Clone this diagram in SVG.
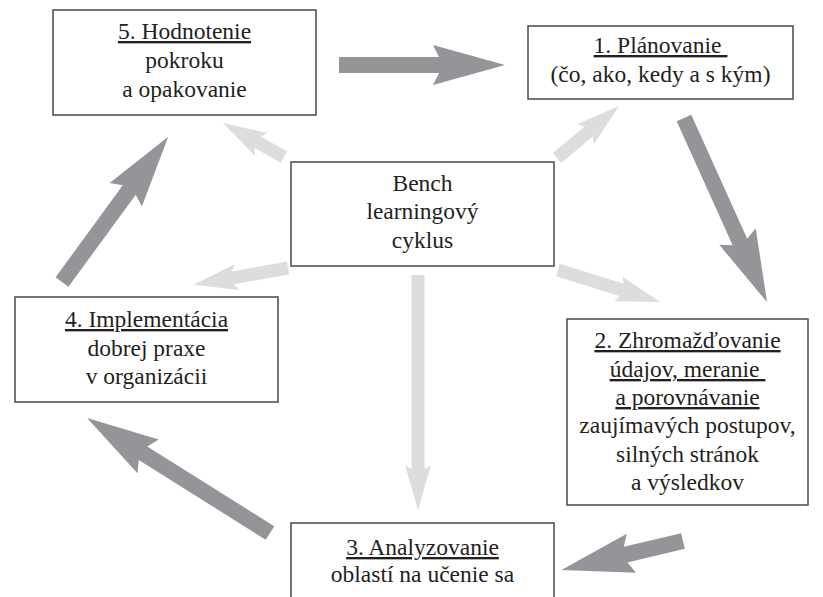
<svg xmlns="http://www.w3.org/2000/svg" width="823" height="597" viewBox="0 0 823 597">
  <style>
    .box { fill: #ffffff; stroke: #4a4a4c; stroke-width: 1.5; }
    .lbl { font-family: "Liberation Serif", "DejaVu Serif", serif; font-size: 23.5px; fill: #231f20; text-anchor: middle; }
    .u { text-decoration: underline; }
    .dark { fill: #939598; }
    .light { fill: #dcddde; }
  </style>
  <rect width="823" height="597" fill="#ffffff"/>

  <!-- connectors -->
  <g id="connectors">
    <!-- light arrows from the central cycle box -->
    <polygon class="light" transform="translate(284,157) rotate(-150.9)" points="0,-6.5 30,-6.5 26,-13 70,0 26,13 30,6.5 0,6.5"/>
    <polygon class="light" transform="translate(557,158) rotate(-40)" points="0,-6.5 41,-6.5 37,-13 81,0 37,13 41,6.5 0,6.5"/>
    <polygon class="light" transform="translate(288,268) rotate(169.9)" points="0,-6.5 56,-6.5 52,-13 96,0 52,13 56,6.5 0,6.5"/>
    <polygon class="light" transform="translate(558,270) rotate(17.4)" points="0,-6.5 67,-6.5 63,-13 107,0 63,13 67,6.5 0,6.5"/>
    <polygon class="light" transform="translate(418,275) rotate(90)" points="0,-6.5 194,-6.5 190,-13 235,0 190,13 194,6.5 0,6.5"/>
    <!-- dark cycle arrows -->
    <polygon class="dark" transform="translate(339,65)" points="0,-8 100,-8 94,-20 166,0 94,20 100,8 0,8"/>
    <polygon class="dark" transform="translate(684,118) rotate(65.72)" points="0,-8 136,-8 130,-20 202,0 130,20 136,8 0,8"/>
    <polygon class="dark" transform="translate(683,541) rotate(166.63)" points="0,-8 59,-8 53,-20 125,0 53,20 59,8 0,8"/>
    <polygon class="dark" transform="translate(270,533) rotate(-147.85)" points="0,-8 150,-8 144,-20 216,0 144,20 150,8 0,8"/>
    <polygon class="dark" transform="translate(62,282) rotate(-53.83)" points="0,-8 114,-8 108,-20 180,0 108,20 114,8 0,8"/>
  </g>

  <g id="node-5">
    <rect class="box" x="53" y="10" width="263" height="105"/>
    <text class="lbl" x="184.5" y="39"><tspan class="u">5. Hodnotenie</tspan></text>
    <text class="lbl" x="184.5" y="68">pokroku</text>
    <text class="lbl" x="184.5" y="97">a opakovanie</text>
  </g>

  <g id="node-1">
    <rect class="box" x="528" y="26" width="265" height="73"/>
    <text class="lbl" x="660.5" y="53"><tspan class="u">1. Plánovanie&#160;</tspan></text>
    <text class="lbl" x="660.5" y="82">(čo, ako, kedy a s kým)</text>
  </g>

  <g id="node-center">
    <rect class="box" x="291" y="162" width="263" height="104"/>
    <text class="lbl" x="422.5" y="191">Bench</text>
    <text class="lbl" x="422.5" y="219">learningový</text>
    <text class="lbl" x="422.5" y="248">cyklus</text>
  </g>

  <g id="node-4">
    <rect class="box" x="15" y="297" width="263" height="105"/>
    <text class="lbl" x="146.5" y="327"><tspan class="u">4. Implementácia</tspan></text>
    <text class="lbl" x="146.5" y="356">dobrej praxe</text>
    <text class="lbl" x="146.5" y="384">v organizácii</text>
  </g>

  <g id="node-2">
    <rect class="box" x="567" y="319" width="241" height="186"/>
    <text class="lbl" x="687.5" y="348"><tspan class="u">2. Zhromažďovanie</tspan></text>
    <text class="lbl" x="687.5" y="377"><tspan class="u">údajov, meranie&#160;</tspan></text>
    <text class="lbl" x="687.5" y="405"><tspan class="u">a porovnávanie</tspan></text>
    <text class="lbl" x="687.5" y="433">zaujímavých postupov,</text>
    <text class="lbl" x="687.5" y="462">silných stránok</text>
    <text class="lbl" x="687.5" y="490">a výsledkov</text>
  </g>

  <g id="node-3">
    <path class="box" d="M291,598 V523 H554 V598"/>
    <text class="lbl" x="422.5" y="555"><tspan class="u">3. Analyzovanie</tspan></text>
    <text class="lbl" x="422.5" y="582">oblastí na učenie sa</text>
  </g>
</svg>
